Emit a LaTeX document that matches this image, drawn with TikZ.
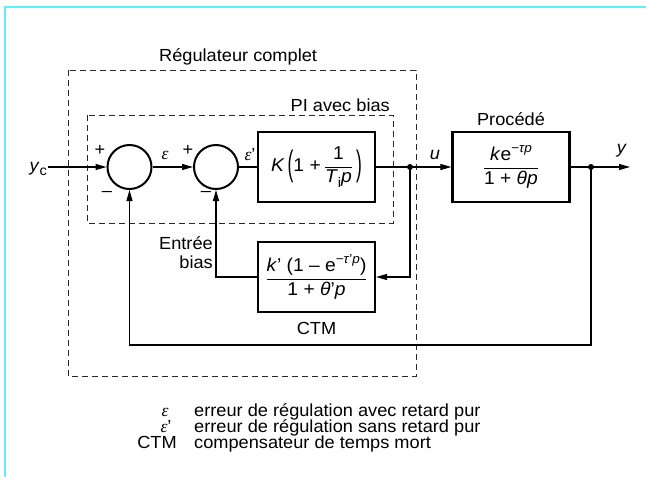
\documentclass[tikz,border=0pt]{standalone}
\usepackage{fontspec}
\setmainfont[FakeStretch=1.04]{Liberation Sans}
\newfontfamily\grk{Liberation Serif}
\usetikzlibrary{arrows.meta}
\definecolor{framecyan}{RGB}{95,240,245}
\definecolor{dashgray}{RGB}{40,40,40}
\newcommand{\eps}{{\grk\itshape ε}}
\newcommand{\sups}[1]{\raisebox{0.85ex}{\fontsize{13}{13}\selectfont #1}}
\newcommand{\subs}[1]{\raisebox{-0.45ex}{\fontsize{14}{14}\selectfont #1}}
\newcommand{\bigpar}[1]{\raisebox{-0.26em}{\scalebox{0.9}[1.9]{#1}}}
\begin{document}
\begin{tikzpicture}[x=1pt,y=-1pt,
  font=\fontsize{17.5}{19}\selectfont,
  blk/.style={draw, line width=2.2pt, minimum width=117pt, minimum height=70pt, inner sep=0pt, font=\fontsize{18.5}{20}\selectfont},
  sumc/.style={draw, circle, line width=2pt, minimum size=44pt, inner sep=0pt},
  dbox/.style={draw=dashgray, dash pattern=on 6pt off 4pt, line width=1pt},
  ln/.style={line width=1.1pt},
  arr/.style={ln, -{Triangle[length=11pt,width=6pt]}},
  jdot/.style={circle, fill, inner sep=0pt, minimum size=6pt},
  lbl/.style={inner sep=0pt}]
\useasboundingbox (0,0) rectangle (646,477);
% partial frame
\draw[framecyan, line width=2pt] (5,477) -- (5,7) -- (646,7);

% dashed groups
\draw[dbox] (68,70) rectangle (416,376);
\draw[dbox] (87,115) rectangle (393,223);
\node[lbl, anchor=base west] (tReg) at (159,61) {Régulateur complet};
\node[lbl, anchor=base east] (tPI) at (390,111) {PI avec bias};

% blocks
\node[blk] (pi) at (316.5,167) {\textit{K}\,\bigpar{(}1 +\,$\displaystyle\frac{\mbox{1}}{\mbox{\textit{T}\subs{i}\textit{p}}}$\,\bigpar{)}};
\node[sumc] (c1) at (129.5,167) {};
\node[sumc] (c2) at (216,167) {};
\node[blk] (proc) at (511,167) {$\displaystyle\frac{\mbox{\textit{k}e\sups{−\textit{τp}}}}{\mbox{1 + \textit{θp}}}$};
\node[blk] (ctm) at (316.5,277) {$\displaystyle\frac{\mbox{\textit{k}' (1 – e\sups{−\textit{τ}'\textit{p}})}}{\mbox{1 + \textit{θ}'\textit{p}}}$};
\node[lbl, anchor=base] (tProc) at (511,125) {Procédé};
\node[lbl, anchor=base] (tCTM) at (316.5,334) {CTM};

% coordinates
\coordinate (yin) at (48,167);
\node[jdot] (ju) at (410,167) {};
\node[jdot] (jy) at (591,167) {};
\coordinate (yout) at (630,167);
\coordinate (fb) at (129.5,345);

% connectors
\draw[arr] (yin) -- (c1.west);
\draw[arr] (c1.east) -- (c2.west);
\draw[ln] (c2.east) -- (pi.west);
\draw[ln] (pi.east) -- (ju.center);
\draw[arr] (ju.center) -- (proc.west);
\draw[ln] (proc.east) -- (jy.center);
\draw[arr] (jy.center) -- (yout);
\draw[arr] (jy.center) |- (fb) -- (c1.south);
\draw[arr] (ju.center) |- (ctm.east);
\draw[arr] (ctm.west) -| (c2.south);

% signal labels
\node[lbl, anchor=east] (lyc) at (47,169) {\textit{y}\subs{c}};
\node[lbl] (p1) at (100,150) {+};
\node[lbl] (p2) at (188,150) {+};
\node[lbl] (m1) at (107,194) {–};
\node[lbl] (m2) at (206,194) {–};
\node[lbl] (le) at (165,155) {\eps};
\node[lbl] (lep) at (250,155) {\eps'};
\node[lbl] (lu) at (435,155) {\textit{u}};
\node[lbl] (ly) at (622,151) {\textit{y}};
\node[lbl, anchor=east, align=right] (lbias) at (213,253) {Entrée\\bias};

% legend
\node[lbl, anchor=base] (k1) at (165,416) {\eps};
\node[lbl, anchor=base] (k2) at (166,432) {\eps'};
\node[lbl, anchor=base] (k3) at (157,448) {CTM};
\node[lbl, anchor=base west] (d1) at (194,416) {erreur de régulation avec retard pur};
\node[lbl, anchor=base west] (d2) at (194,432) {erreur de régulation sans retard pur};
\node[lbl, anchor=base west] (d3) at (194,448) {compensateur de temps mort};
\end{tikzpicture}
\end{document}
